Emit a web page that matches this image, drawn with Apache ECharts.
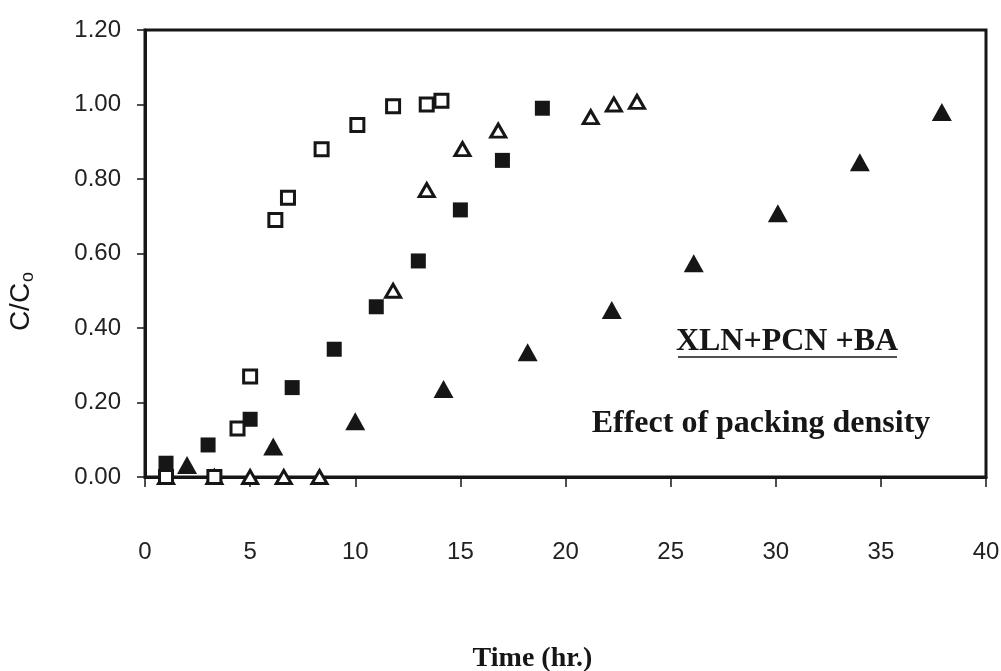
<!DOCTYPE html>
<html>
<head>
<meta charset="utf-8">
<script src="https://cdn.jsdelivr.net/npm/echarts@6/dist/echarts.min.js"></script>
<style>
  html, body { margin: 0; padding: 0; background: #ffffff; }
  #chart { width: 1001px; height: 671px; }
</style>
</head>
<body>
<div id="chart"></div>
<script>
// ---- data ----
const openSquareX   = [1.0, 3.3, 4.4, 5.0, 6.2, 6.8, 8.4, 10.1, 11.8, 13.4, 14.1];
const openSquareY   = [0.0, 0.0, 0.13, 0.27, 0.69, 0.75, 0.88, 0.945, 0.995, 1.0, 1.01];

const filledSquareX = [1.0, 3.0, 5.0, 7.0, 9.0, 11.0, 13.0, 15.0, 17.0, 18.9];
const filledSquareY = [0.037, 0.086, 0.155, 0.24, 0.343, 0.457, 0.58, 0.717, 0.85, 0.99];

const openTriX      = [1.0, 3.3, 5.0, 6.6, 8.3, 11.8, 13.4, 15.1, 16.8, 21.2, 22.3, 23.4];
const openTriY      = [0.0, 0.0, 0.0, 0.0, 0.0, 0.50, 0.77, 0.88, 0.93, 0.966, 1.0, 1.007];

const filledTriX    = [2.0, 6.1, 10.0, 14.2, 18.2, 22.2, 26.1, 30.1, 34.0, 37.9];
const filledTriY    = [0.032, 0.082, 0.15, 0.236, 0.335, 0.448, 0.574, 0.708, 0.845, 0.98];

const xTicks = { min: 0, max: 40, interval: 5 };
const yTicks = { min: 0, max: 1.2, interval: 0.2 };

const xTitle = 'Time (hr.)';
const yTitleMain = 'C/C';
const yTitleSub = 'o';
const note1 = 'XLN+PCN +BA';
const note2 = 'Effect of packing density';

function pairs(xs, ys) { return xs.map((x, i) => [x, ys[i]]); }

const ink = '#161616';
const labelColor = '#222222';
const labelFont = 'Liberation Sans, Arial, sans-serif';
const serifFont = 'Liberation Serif, Times New Roman, serif';

const chart = echarts.init(document.getElementById('chart'), null, { renderer: 'canvas' });

chart.setOption({
  backgroundColor: '#ffffff',
  animation: false,
  grid: {
    left: 145, top: 30, right: 15, bottom: 194,
    containLabel: false, outerBoundsMode: 'none',
    show: true, borderColor: ink, borderWidth: 3, backgroundColor: 'transparent'
  },
  xAxis: {
    type: 'value',
    min: xTicks.min, max: xTicks.max, interval: xTicks.interval,
    name: xTitle,
    nameLocation: 'middle',
    nameGap: 168,
    nameTextStyle: {
      fontFamily: serifFont, fontWeight: 'bold', fontSize: 28, color: ink,
      padding: [0, 66, 0, 0]
    },
    axisLine: { show: true, onZero: false, lineStyle: { color: ink, width: 3 } },
    axisTick: { show: true, inside: false, length: 10, lineStyle: { color: ink, width: 1.5 } },
    axisLabel: { margin: 63, fontFamily: labelFont, fontSize: 24, color: labelColor },
    splitLine: { show: false }
  },
  yAxis: {
    type: 'value',
    min: yTicks.min, max: yTicks.max, interval: yTicks.interval,
    name: '{a|' + yTitleMain + '}{b|' + yTitleSub + '}',
    nameLocation: 'middle',
    nameRotate: 90,
    nameGap: 108,
    nameTextStyle: {
      padding: [0, 96, 0, 0],
      rich: {
        a: { fontFamily: labelFont, fontSize: 28, color: ink },
        b: { fontFamily: labelFont, fontSize: 18, color: ink, padding: [14, 0, 0, 1] }
      }
    },
    axisLine: { show: true, onZero: false, lineStyle: { color: ink, width: 3 } },
    axisTick: { show: true, inside: false, length: 8, lineStyle: { color: ink, width: 1.5 } },
    axisLabel: {
      margin: 24, fontFamily: labelFont, fontSize: 24, color: labelColor,
      formatter: v => v.toFixed(2)
    },
    splitLine: { show: false }
  },
  series: [
    {
      name: 'filled triangles', type: 'scatter', symbol: 'triangle', symbolSize: [20, 18],
      itemStyle: { color: ink, borderColor: ink, borderWidth: 0, opacity: 1 },
      data: pairs(filledTriX, filledTriY), z: 3
    },
    {
      name: 'open triangles', type: 'scatter', symbol: 'triangle', symbolSize: [15, 13],
      itemStyle: { color: '#ffffff', borderColor: ink, borderWidth: 3, opacity: 1 },
      data: pairs(openTriX, openTriY), z: 4
    },
    {
      name: 'filled squares', type: 'scatter', symbol: 'rect', symbolSize: 15,
      itemStyle: { color: ink, borderColor: ink, borderWidth: 0, opacity: 1 },
      data: pairs(filledSquareX, filledSquareY), z: 5
    },
    {
      name: 'open squares', type: 'scatter', symbol: 'rect', symbolSize: 13,
      itemStyle: { color: '#ffffff', borderColor: ink, borderWidth: 3, opacity: 1 },
      data: pairs(openSquareX, openSquareY), z: 6
    }
  ],
  graphic: [
    {
      type: 'text', z: 10,
      style: {
        x: 787, y: 342, text: note1, align: 'center', verticalAlign: 'middle',
        font: 'bold 32px ' + serifFont, fill: ink
      }
    },
    {
      type: 'line', z: 10,
      shape: { x1: 678, y1: 357, x2: 897, y2: 357 },
      style: { stroke: ink, lineWidth: 1.6 }
    },
    {
      type: 'text', z: 10,
      style: {
        x: 761, y: 424, text: note2, align: 'center', verticalAlign: 'middle',
        font: 'bold 32px ' + serifFont, fill: ink
      }
    }
  ]
});
</script>
</body>
</html>
